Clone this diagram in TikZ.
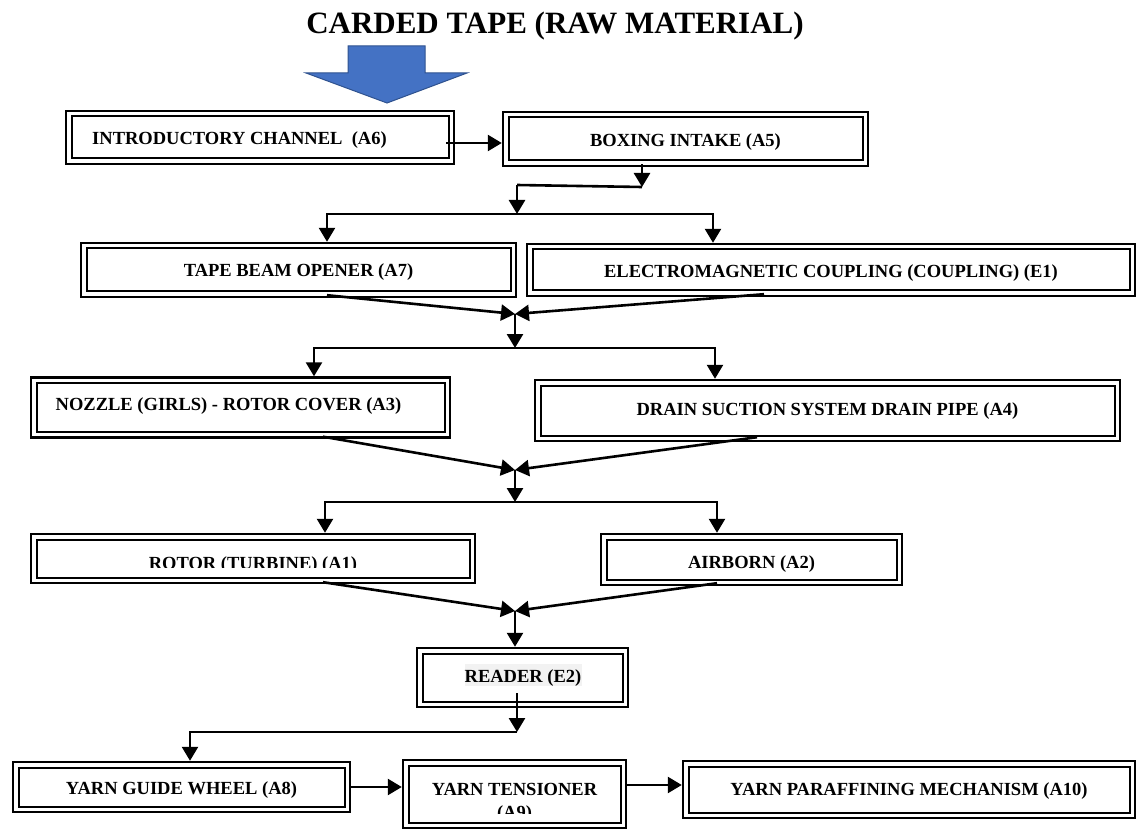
\documentclass[tikz,border=0pt]{standalone}
\usepackage{fontspec}
\setmainfont{Liberation Serif}
\usetikzlibrary{arrows.meta}
\definecolor{bluefill}{HTML}{4472C4}
\definecolor{blueedge}{HTML}{2F528F}
\definecolor{hl}{HTML}{F2F2F2}
\begin{document}
\begin{tikzpicture}[x=1pt,y=-1pt,
  box/.style={draw, line width=2.4pt, rectangle, inner sep=0pt,
    text height=12.2pt, text depth=0pt,
    font=\bfseries\fontsize{18.5}{23}\selectfont,
    path picture={\draw[line width=2pt]
      ([shift={(5.5pt,5.5pt)}]path picture bounding box.south west) rectangle
      ([shift={(-5.5pt,-5.5pt)}]path picture bounding box.north east);}},
  txt/.style={inner sep=0pt, font=\bfseries\fontsize{18.5}{23}\selectfont},
  conn/.style={line width=2.6pt, -{Triangle[length=14pt,width=16pt]}},
  plain/.style={line width=2.6pt}]
\useasboundingbox (0,0) rectangle (1136,829);

% title and feed arrow
\node[font=\bfseries\fontsize{31}{36}\selectfont, anchor=base, inner sep=0pt] (title) at (555,34) {CARDED TAPE (RAW MATERIAL)};
\draw[fill=bluefill, draw=blueedge, line width=1pt] (348,46) -- (425,46) -- (425,73) -- (467,73) -- (387,103) -- (306,73) -- (348,73) -- cycle;

% boxes
\node[box, minimum width=388pt, minimum height=53pt] (a6) at (260,137.5) {\raisebox{-1pt}{INTRODUCTORY CHANNEL\ \ (A6)}\hspace{41pt}\null};
\node[box, minimum width=365pt, minimum height=54pt] (a5) at (685.5,139) {\raisebox{-1.5pt}{BOXING INTAKE (A5)}};
\node[box, minimum width=435pt, minimum height=54pt] (a7) at (298.5,270) {TAPE BEAM OPENER (A7)};
\node[box, minimum width=608pt, minimum height=52pt] (e1) at (831,270) {\raisebox{-1.5pt}{ELECTROMAGNETIC COUPLING (COUPLING) (E1)}};
\node[box, minimum width=419pt, minimum height=60pt] (a3) at (240.5,407.5) {\raisebox{3pt}{NOZZLE (GIRLS) - ROTOR COVER (A3)}\hspace{24pt}\null};
\node[box, minimum width=585pt, minimum height=61pt] (a4) at (827.5,410.5) {\raisebox{1pt}{DRAIN SUCTION SYSTEM DRAIN PIPE (A4)}};
\node[box, minimum width=444pt, minimum height=49pt] (a1) at (253,558.5) {};
\begin{scope}
  \clip (31,534) rectangle (475,567);
  \node[txt, anchor=base] (a1t) at (253,569) {ROTOR (TURBINE) (A1)};
\end{scope}
\node[box, minimum width=301pt, minimum height=51pt] (a2) at (751.5,559.5) {\raisebox{-2.5pt}{AIRBORN (A2)}};
\fill[hl] (465,664) rectangle (582,686);
\node[box, minimum width=211pt, minimum height=59pt] (e2) at (522.5,677.5) {};
\node[txt, anchor=base] (e2t) at (523,682) {READER (E2)};
\node[box, minimum width=337pt, minimum height=50pt] (a8) at (181.5,787) {\raisebox{-1pt}{YARN GUIDE WHEEL (A8)}};
\node[box, minimum width=223pt, minimum height=68pt] (a9) at (514.5,794) {};
\begin{scope}
  \clip (403,760) rectangle (626,813);
  \node[txt, anchor=base] (a9t) at (514.5,795) {YARN TENSIONER};
  \node[txt, anchor=base] (a9u) at (514.5,818) {(A9)};
\end{scope}
\node[box, minimum width=452pt, minimum height=57pt] (a10) at (909,789.5) {YARN PARAFFINING MECHANISM (A10)};

% junction points
\coordinate (j1) at (642,187);
\coordinate (j2) at (517,185);
\coordinate (b1m) at (517,214);
\coordinate (b1l) at (327,214);
\coordinate (b1r) at (713,214);
\coordinate (m1) at (515,314);
\coordinate (b2m) at (515,348);
\coordinate (b2l) at (314,348);
\coordinate (b2r) at (715,348);
\coordinate (m2) at (515,470);
\coordinate (b3m) at (515,502);
\coordinate (b3l) at (325,502);
\coordinate (b3r) at (717,502);
\coordinate (m3) at (515,611);
\coordinate (j3) at (517,732);
\coordinate (j4) at (190,732);

% connectors
\draw[conn] ([xshift=-9pt,yshift=-5.5pt]a6.east) -- ([yshift=-5.5pt]a6.east -| a5.west);
\draw[conn] ([yshift=3pt]a5.south -| j1) -- (j1);
\draw[plain] (j1) -- (j2);
\draw[conn] (j2) -- (b1m);
\draw[conn] (b1m) -- (b1l) -- (b1l |- a7.north);
\draw[conn] (b1m) -- (b1r) -- (b1r |- e1.north);

\draw[conn] ([yshift=3pt]a7.south -| b1l) -- (m1);
\draw[conn] ([xshift=-67pt,yshift=3pt]e1.south) -- (m1);
\draw[conn] (m1) -- (b2m);
\draw[conn] (b2m) -- (b2l) -- (b2l |- a3.north);
\draw[conn] (b2m) -- (b2r) -- (b2r |- a4.north);

\draw[conn] ([xshift=82.5pt,yshift=2pt]a3.south) -- (m2);
\draw[conn] ([xshift=-70.5pt,yshift=5pt]a4.south) -- (m2);
\draw[conn] (m2) -- (b3m);
\draw[conn] (b3m) -- (b3l) -- (b3l |- a1.north);
\draw[conn] (b3m) -- (b3r) -- (b3r |- a2.north);

\draw[conn] ([xshift=70pt,yshift=2pt]a1.south) -- (m3);
\draw[conn] ([xshift=-34.5pt,yshift=3pt]a2.south) -- (m3);
\draw[conn] (m3) -- (m3 |- e2.north);

\draw[conn] ([yshift=15pt]e2.south -| j3) -- (j3);
\draw[conn] (j3) -- (j4) -- (j4 |- a8.north);
\draw[conn] (a8.east) -- (a8.east -| a9.west);
\draw[conn] ([yshift=9pt]a9.east) -- ([yshift=9pt]a9.east -| a10.west);
\end{tikzpicture}
\end{document}
